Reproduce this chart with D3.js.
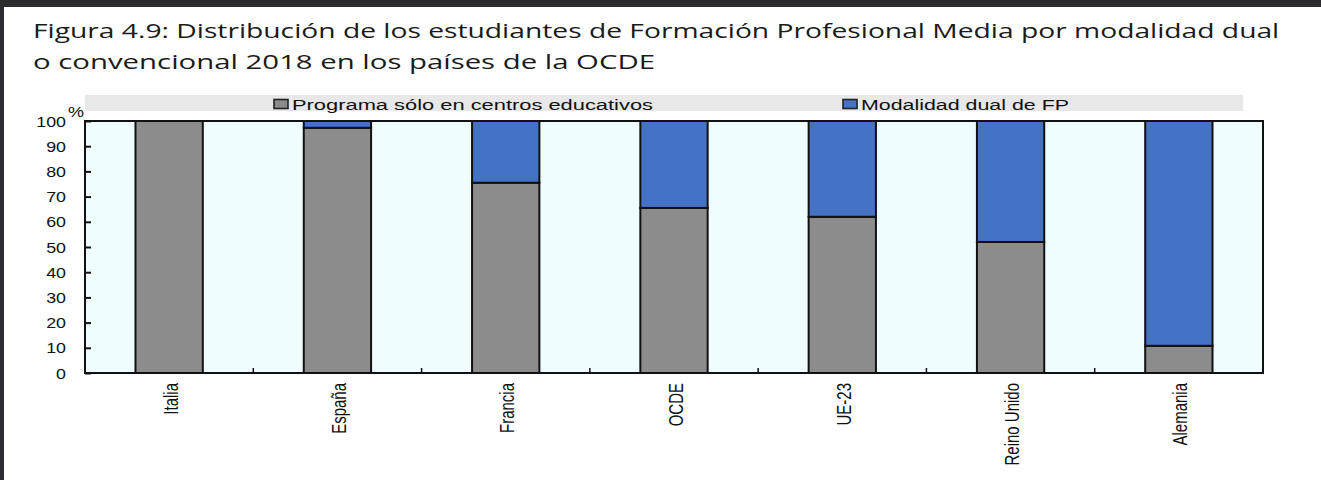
<!DOCTYPE html>
<html>
<head>
<meta charset="utf-8">
<script src="https://cdn.jsdelivr.net/npm/d3@7"></script>
<style>
  body { margin: 0; background: #fff; }
  svg { display: block; }
</style>
</head>
<body>
<script>
// data
var categories = ["Italia", "España", "Francia", "OCDE", "UE-23", "Reino Unido", "Alemania"];
var escolar = [100, 97.3, 75.5, 65.5, 62, 52, 10.8];        // programa sólo en centros educativos
var dual = escolar.map(function (v) { return 100 - v; });   // modalidad dual de FP
var seriesNames = ["Programa sólo en centros educativos", "Modalidad dual de FP"];
var seriesColors = ["#8c8c8c", "#4472c4"];
var yTicks = [0, 10, 20, 30, 40, 50, 60, 70, 80, 90, 100];

var W = 1321, H = 480;
var m = { left: 85, right: 1263, top: 121, bottom: 373 };
var SX = 1.4; // the source picture is stretched sideways

var svg = d3.select("body").append("svg").attr("width", W).attr("height", H);

// dark frame of the screenshot
svg.append("rect").attr("x", 0).attr("y", 0).attr("width", W).attr("height", 7).attr("fill", "#2b2b30");
svg.append("rect").attr("x", 0).attr("y", 0).attr("width", 4).attr("height", H).attr("fill", "#2b2b30");

// title
var title = svg.append("g");
var t1 = title.append("text").attr("x", 0).attr("y", 38)
    .attr("font-family", "'Open Sans', sans-serif").attr("font-size", 19.5).attr("fill", "#1a1a1a")
    .text("Figura 4.9: Distribución de los estudiantes de Formación Profesional Media por modalidad dual");
var t2 = title.append("text").attr("x", 0).attr("y", 69)
    .attr("font-family", "'Open Sans', sans-serif").attr("font-size", 19.5).attr("fill", "#1a1a1a")
    .text("o convencional 2018 en los países de la OCDE");
var tScale = 1247 / t1.node().getComputedTextLength();
t2.attr("textLength", 622 / tScale).attr("lengthAdjust", "spacingAndGlyphs");
title.attr("transform", "translate(33,0) scale(" + tScale + ",1)");

var x = d3.scaleBand().domain(categories).range([m.left, m.right]).paddingInner(0).paddingOuter(0);
var y = d3.scaleLinear().domain([0, 100]).range([m.bottom, m.top]);

// legend strip
svg.append("rect").attr("x", m.left).attr("y", 95).attr("width", 1158).attr("height", 16).attr("fill", "#e8e8e8");
var legX = [274, 843];
var legLen = [361, 208];
seriesNames.forEach(function (name, i) {
    svg.append("rect").attr("x", legX[i]).attr("y", 99.5).attr("width", 14).attr("height", 9)
        .attr("fill", seriesColors[i]).attr("stroke", "#222").attr("stroke-width", 1.6);
    svg.append("text").attr("x", legX[i] + 18).attr("y", 109.5)
        .attr("font-family", "'Liberation Sans', Arial, sans-serif").attr("font-size", 15.5)
        .attr("textLength", legLen[i]).attr("lengthAdjust", "spacingAndGlyphs")
        .attr("fill", "#111").text(name);
});

// plot background
svg.append("rect").attr("x", m.left).attr("y", m.top)
    .attr("width", m.right - m.left).attr("height", m.bottom - m.top)
    .attr("fill", "#f0fdff");

// stacked bars
var rows = categories.map(function (c, i) { return { cat: c, escolar: escolar[i], dual: dual[i] }; });
var stack = d3.stack().keys(["escolar", "dual"])(rows);
var bw = x.bandwidth() * 0.4;

svg.append("g").selectAll("g").data(stack).join("g")
    .attr("fill", function (d, i) { return seriesColors[i]; })
    .selectAll("rect").data(function (d) { return d; }).join("rect")
    .attr("x", function (d) { return x(d.data.cat) + (x.bandwidth() - bw) / 2; })
    .attr("y", function (d) { return y(d[1]); })
    .attr("width", bw)
    .attr("height", function (d) { return y(d[0]) - y(d[1]); })
    .attr("stroke", "#111")
    .attr("stroke-width", 2);

// plot frame
svg.append("rect").attr("x", m.left).attr("y", m.top)
    .attr("width", m.right - m.left).attr("height", m.bottom - m.top)
    .attr("fill", "none").attr("stroke", "#111").attr("stroke-width", 2);

// y axis (ticks inside)
var yAxis = svg.append("g").attr("transform", "translate(" + m.left + ",0)")
    .call(d3.axisRight(y).tickValues(yTicks).tickSize(6).tickFormat(""));
yAxis.select(".domain").remove();
yAxis.selectAll("line").attr("stroke", "#111").attr("stroke-width", 2);

svg.append("g").selectAll("text").data(yTicks).join("text")
    .attr("transform", function (d) { return "translate(66," + (y(d) + 5.5) + ") scale(1.15,1)"; })
    .attr("text-anchor", "end")
    .attr("font-family", "'Liberation Sans', Arial, sans-serif").attr("font-size", 15.5)
    .attr("fill", "#111").text(function (d) { return d; });
svg.append("text").attr("transform", "translate(68,117) scale(1.2,1)")
    .attr("font-family", "'Liberation Sans', Arial, sans-serif").attr("font-size", 15)
    .attr("fill", "#111").text("%");

// x ticks between categories (pointing up)
svg.append("g").selectAll("line").data(categories.slice(1)).join("line")
    .attr("x1", function (d) { return x(d); }).attr("x2", function (d) { return x(d); })
    .attr("y1", m.bottom).attr("y2", m.bottom - 5)
    .attr("stroke", "#111").attr("stroke-width", 1.5);

// x labels, rotated
svg.append("g").selectAll("text").data(categories).join("text")
    .attr("transform", function (d) {
        return "translate(" + (x(d) + x.bandwidth() / 2 + 8.5) + "," + (m.bottom + 10) +
            ") scale(" + SX + ",1) rotate(-90)";
    })
    .attr("text-anchor", "end")
    .attr("font-family", "'Liberation Sans Narrow', 'Liberation Sans', Arial, sans-serif")
    .attr("font-size", 15)
    .attr("fill", "#111").text(function (d) { return d; });
</script>
</body>
</html>
